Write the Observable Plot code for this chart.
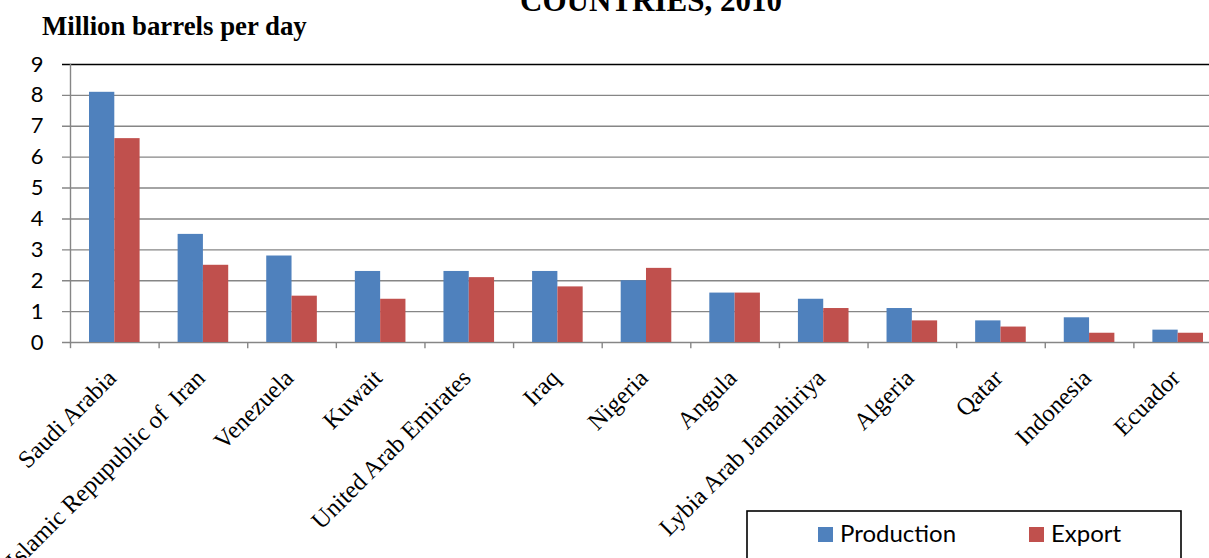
<!DOCTYPE html>
<html>
<head>
<meta charset="utf-8">
<script src="https://cdn.jsdelivr.net/npm/d3@7"></script>
<script src="https://cdn.jsdelivr.net/npm/@observablehq/plot@0.6"></script>
<style>
  html, body { margin: 0; padding: 0; background: white; overflow: hidden; }
  #chart { position: relative; width: 1209px; height: 558px; }
</style>
</head>
<body>
<div id="chart"></div>
<script>
const countries = [
  "Saudi Arabia", "Islamic Repupublic of  Iran", "Venezuela", "Kuwait",
  "United Arab Emirates", "Iraq", "Nigeria", "Angula",
  "Lybia Arab Jamahiriya", "Algeria", "Qatar", "Indonesia", "Ecuador"
];
const production = [8.1, 3.5, 2.8, 2.3, 2.3, 2.3, 2.0, 1.6, 1.4, 1.1, 0.7, 0.8, 0.4];
const exports_ = [6.6, 2.5, 1.5, 1.4, 2.1, 1.8, 2.4, 1.6, 1.1, 0.7, 0.5, 0.3, 0.3];
const yTicks = [0, 1, 2, 3, 4, 5, 6, 7, 8, 9];
const seriesNames = ["Production", "Export"];
const seriesColors = ["#4F81BD", "#C0504D"];
const titleText = "COUNTRIES, 2010";
const yTitle = "Million barrels per day";

const prodData = countries.map((c, i) => ({country: c, value: production[i]}));
const expData = countries.map((c, i) => ({country: c, value: exports_[i]}));

const W = 1209, H = 558;
const mL = 70, mR = -13, mT = 64, mB = 216;
const bw = (W - mL - mR) / countries.length;
const gridColor = "#868686";
const serif = "'Liberation Serif', 'Times New Roman', serif";

const plot = Plot.plot({
  width: W,
  height: H,
  marginLeft: mL,
  marginRight: mR,
  marginTop: mT,
  marginBottom: mB,
  style: {fontFamily: "Lato, sans-serif", fontSize: "22px", background: "white", overflow: "hidden"},
  x: {type: "band", domain: countries, padding: 0, round: false, axis: null},
  y: {domain: [0, 9], axis: null},
  marks: [
    Plot.ruleY(yTicks.filter(v => v > 0 && v < 9), {y: d => d, stroke: gridColor, strokeWidth: 1.4, insetLeft: -8}),
    Plot.ruleY([0], {y: d => d, stroke: gridColor, strokeWidth: 1.4, insetLeft: -8}),
    Plot.ruleY([9], {y: d => d, stroke: "black", strokeWidth: 1.6, insetLeft: -8}),
    Plot.frame({anchor: "left", stroke: gridColor, strokeWidth: 1.4}),
    Plot.ruleX(countries, {x: d => d, dx: -bw / 2, y1: 0, y2: -0.2, stroke: gridColor, strokeWidth: 1.4}),
    Plot.barY(prodData, {x: "country", y: "value", fill: seriesColors[0], insetLeft: 19, insetRight: bw - 19 - 25.3}),
    Plot.barY(expData, {x: "country", y: "value", fill: seriesColors[1], insetLeft: 19 + 25.3, insetRight: bw - 19 - 50.6}),
    Plot.axisY({ticks: yTicks, tickSize: 0, tickPadding: 27, tickFormat: d => d, fontSize: 22, fill: "black", label: null}),
    Plot.text(countries, {
      x: d => d, y: () => 0, dx: 3, dy: 37,
      rotate: -45, textAnchor: "end", lineAnchor: "bottom",
      fontFamily: serif, fontSize: 24.5, fill: "black"
    })
  ]
});

document.getElementById("chart").appendChild(plot);

const svg = d3.select(plot);
svg.append("text")
  .attr("x", 651).attr("y", 11)
  .attr("text-anchor", "middle")
  .attr("font-family", serif)
  .attr("font-weight", "bold")
  .attr("font-size", 31)
  .attr("fill", "black")
  .text(titleText);
svg.append("text")
  .attr("x", 42).attr("y", 35)
  .attr("text-anchor", "start")
  .attr("font-family", serif)
  .attr("font-weight", "bold")
  .attr("font-size", 26.8)
  .attr("fill", "black")
  .text(yTitle);

const lg = svg.append("g");
lg.append("rect")
  .attr("x", 747).attr("y", 511).attr("width", 434).attr("height", 70)
  .attr("fill", "white").attr("stroke", "black").attr("stroke-width", 1.6);
const legendX = [818, 1029];
seriesNames.forEach((name, i) => {
  lg.append("rect")
    .attr("x", legendX[i]).attr("y", 527).attr("width", 15).attr("height", 15)
    .attr("fill", seriesColors[i]);
  lg.append("text")
    .attr("x", legendX[i] + 22).attr("y", 542)
    .attr("text-anchor", "start")
    .attr("font-family", "Lato, sans-serif")
    .attr("font-size", 24)
    .attr("fill", "black")
    .text(name);
});
</script>
</body>
</html>
